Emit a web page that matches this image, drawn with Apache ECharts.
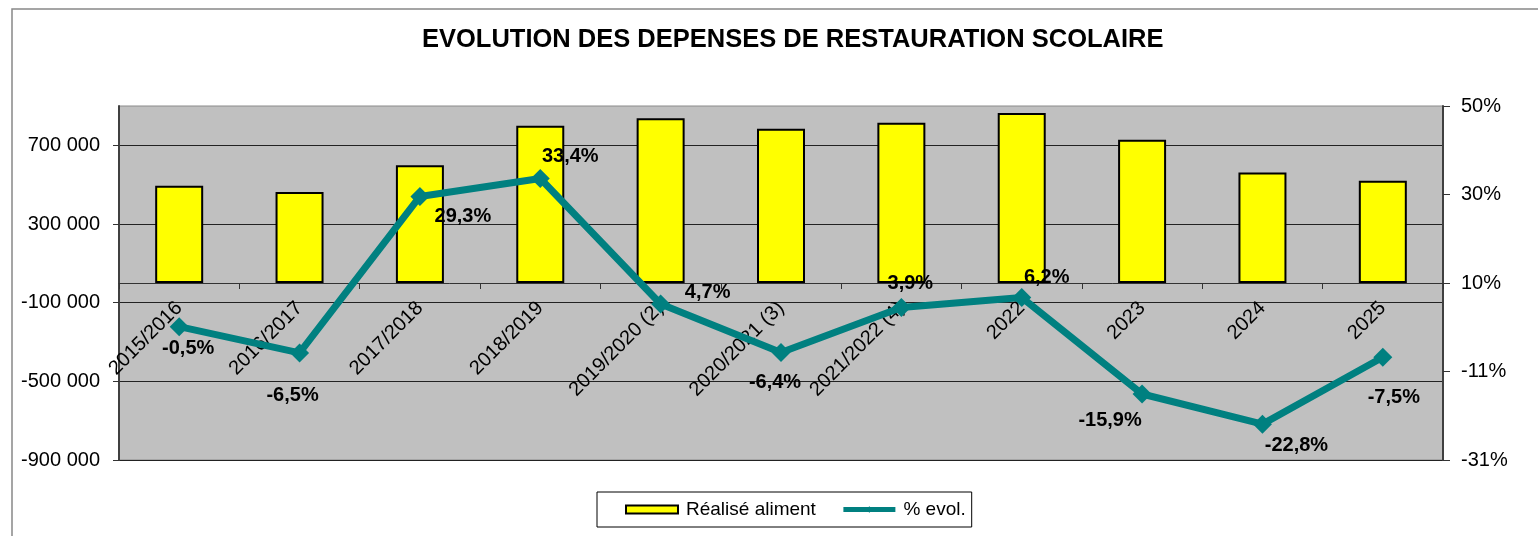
<!DOCTYPE html>
<html>
<head>
<meta charset="utf-8">
<script src="https://cdn.jsdelivr.net/npm/echarts@6/dist/echarts.min.js"></script>
<style>
  html, body { margin: 0; padding: 0; background: #ffffff; }
  #chart { width: 1538px; height: 536px; }
</style>
</head>
<body>
<div id="chart"></div>
<script>
// School catering spending: yearly food spend (bars) and yearly change (line)
const categories = ['2015/2016', '2016/2017', '2017/2018', '2018/2019', '2019/2020 (2)',
  '2020/2021 (3)', '2021/2022 (4)', '2022', '2023', '2024', '2025'];
const realiseAliment = [495000, 463000, 599000, 800000, 838000, 784000, 815000, 865000, 728000, 562000, 520000];
const evolPct = [-0.5, -6.5, 29.3, 33.4, 4.7, -6.4, 3.9, 6.2, -15.9, -22.8, -7.5];

// Axis bounds: amounts (left) and percentages (right)
const amountMin = -900000, amountMax = 900000, amountStep = 400000;
const pctMin = -31, pctMax = 50, pctStep = 20.25;

// Where each percentage label sits relative to its marker
const labelOffsets = [[9, 22], [-7, 43], [43, 20], [30, -22], [47, -11], [-6, 30],
  [9, -24], [25, -20], [-32, 26], [34, 21], [11, 40]];

const FONT = 'Arial, "Liberation Sans", sans-serif';

// Plot box
const GRID_LEFT = 119, GRID_TOP = 106, GRID_W = 1324, GRID_H = 354;
// The category axis crosses the amount axis at 0
const zeroY = GRID_TOP + GRID_H * (amountMax / (amountMax - amountMin));
const categoryAxisOffset = -(GRID_TOP + GRID_H - zeroY);

function fmtAmount(v) {
  return String(Math.round(v)).replace(/\B(?=(\d{3})+(?!\d))/g, ' ');
}
function fmtPct(v) {
  return v.toFixed(1).replace('.', ',') + '%';
}

const chart = echarts.init(document.getElementById('chart'), null, { renderer: 'canvas' });

chart.setOption({
  backgroundColor: '#ffffff',
  animation: false,
  textStyle: { fontFamily: FONT },
  title: {
    text: 'EVOLUTION DES DEPENSES DE RESTAURATION SCOLAIRE',
    left: 422,
    top: 27,
    padding: 0,
    textStyle: { fontFamily: FONT, fontSize: 25.5, fontWeight: 'bold', color: '#000' }
  },
  graphic: [{
    type: 'rect',
    shape: { x: 12, y: 9, width: 1700, height: 700 },
    style: { fill: 'none', stroke: '#888888', lineWidth: 1.5 },
    silent: true,
    z: -1
  }],
  legend: {
    left: 597,
    top: 492,
    padding: [8, 6, 8, 28],
    itemGap: 25,
    itemWidth: 52,
    itemHeight: 8,
    borderColor: '#000',
    borderWidth: 1,
    textStyle: { fontFamily: FONT, fontSize: 19, color: '#000', padding: [0, 0, 0, 3] },
    data: [
      { name: 'Réalisé aliment', icon: 'rect' },
      { name: '% evol.', lineStyle: { width: 5, color: '#008080' } }
    ]
  },
  grid: {
    left: GRID_LEFT,
    top: GRID_TOP,
    width: GRID_W,
    height: GRID_H,
    outerBoundsMode: 'none',
    containLabel: false,
    show: true,
    backgroundColor: '#c0c0c0',
    borderColor: '#8a8a8a',
    borderWidth: 1
  },
  xAxis: {
    type: 'category',
    data: categories,
    boundaryGap: true,
    position: 'bottom',
    offset: categoryAxisOffset,
    axisLine: { show: true, onZero: false, lineStyle: { color: '#333', width: 1 } },
    axisTick: { show: true, interval: 0, length: 6, lineStyle: { color: '#333' } },
    axisLabel: {
      interval: 0,
      rotate: 45,
      margin: 22,
      hideOverlap: false,
      fontFamily: FONT,
      fontSize: 20,
      color: '#000'
    },
    splitLine: { show: false }
  },
  yAxis: [
    {
      type: 'value',
      position: 'left',
      min: amountMin,
      max: amountMax,
      interval: amountStep,
      axisLine: { show: true, lineStyle: { color: '#404040', width: 2 } },
      axisTick: { show: true, length: 6, lineStyle: { color: '#333' } },
      axisLabel: {
        margin: 19,
        fontFamily: FONT,
        fontSize: 20,
        color: '#000',
        showMaxLabel: false,
        formatter: fmtAmount
      },
      splitLine: { show: true, showMaxLine: false, lineStyle: { color: '#222', width: 1 } }
    },
    {
      type: 'value',
      position: 'right',
      min: pctMin,
      max: pctMax,
      interval: pctStep,
      axisLine: { show: true, lineStyle: { color: '#404040', width: 2 } },
      axisTick: { show: true, length: 7, lineStyle: { color: '#333' } },
      axisLabel: {
        margin: 18,
        fontFamily: FONT,
        fontSize: 20,
        color: '#000',
        formatter: function (v) { return Math.round(v) + '%'; }
      },
      splitLine: { show: false }
    }
  ],
  series: [
    {
      name: 'Réalisé aliment',
      type: 'bar',
      yAxisIndex: 0,
      barWidth: 48,
      data: realiseAliment,
      itemStyle: { color: '#ffff00', borderColor: '#000', borderWidth: 2 },
      z: 2
    },
    {
      name: '% evol.',
      type: 'line',
      yAxisIndex: 1,
      data: evolPct.map(function (v, i) {
        return { value: v, label: { offset: labelOffsets[i] } };
      }),
      symbol: 'diamond',
      symbolSize: 19,
      lineStyle: { color: '#008080', width: 7 },
      itemStyle: { color: '#008080' },
      label: {
        show: true,
        position: 'inside',
        fontFamily: FONT,
        fontSize: 20,
        fontWeight: 'bold',
        color: '#000',
        formatter: function (p) { return fmtPct(p.value); }
      },
      z: 4
    }
  ]
});
</script>
</body>
</html>
